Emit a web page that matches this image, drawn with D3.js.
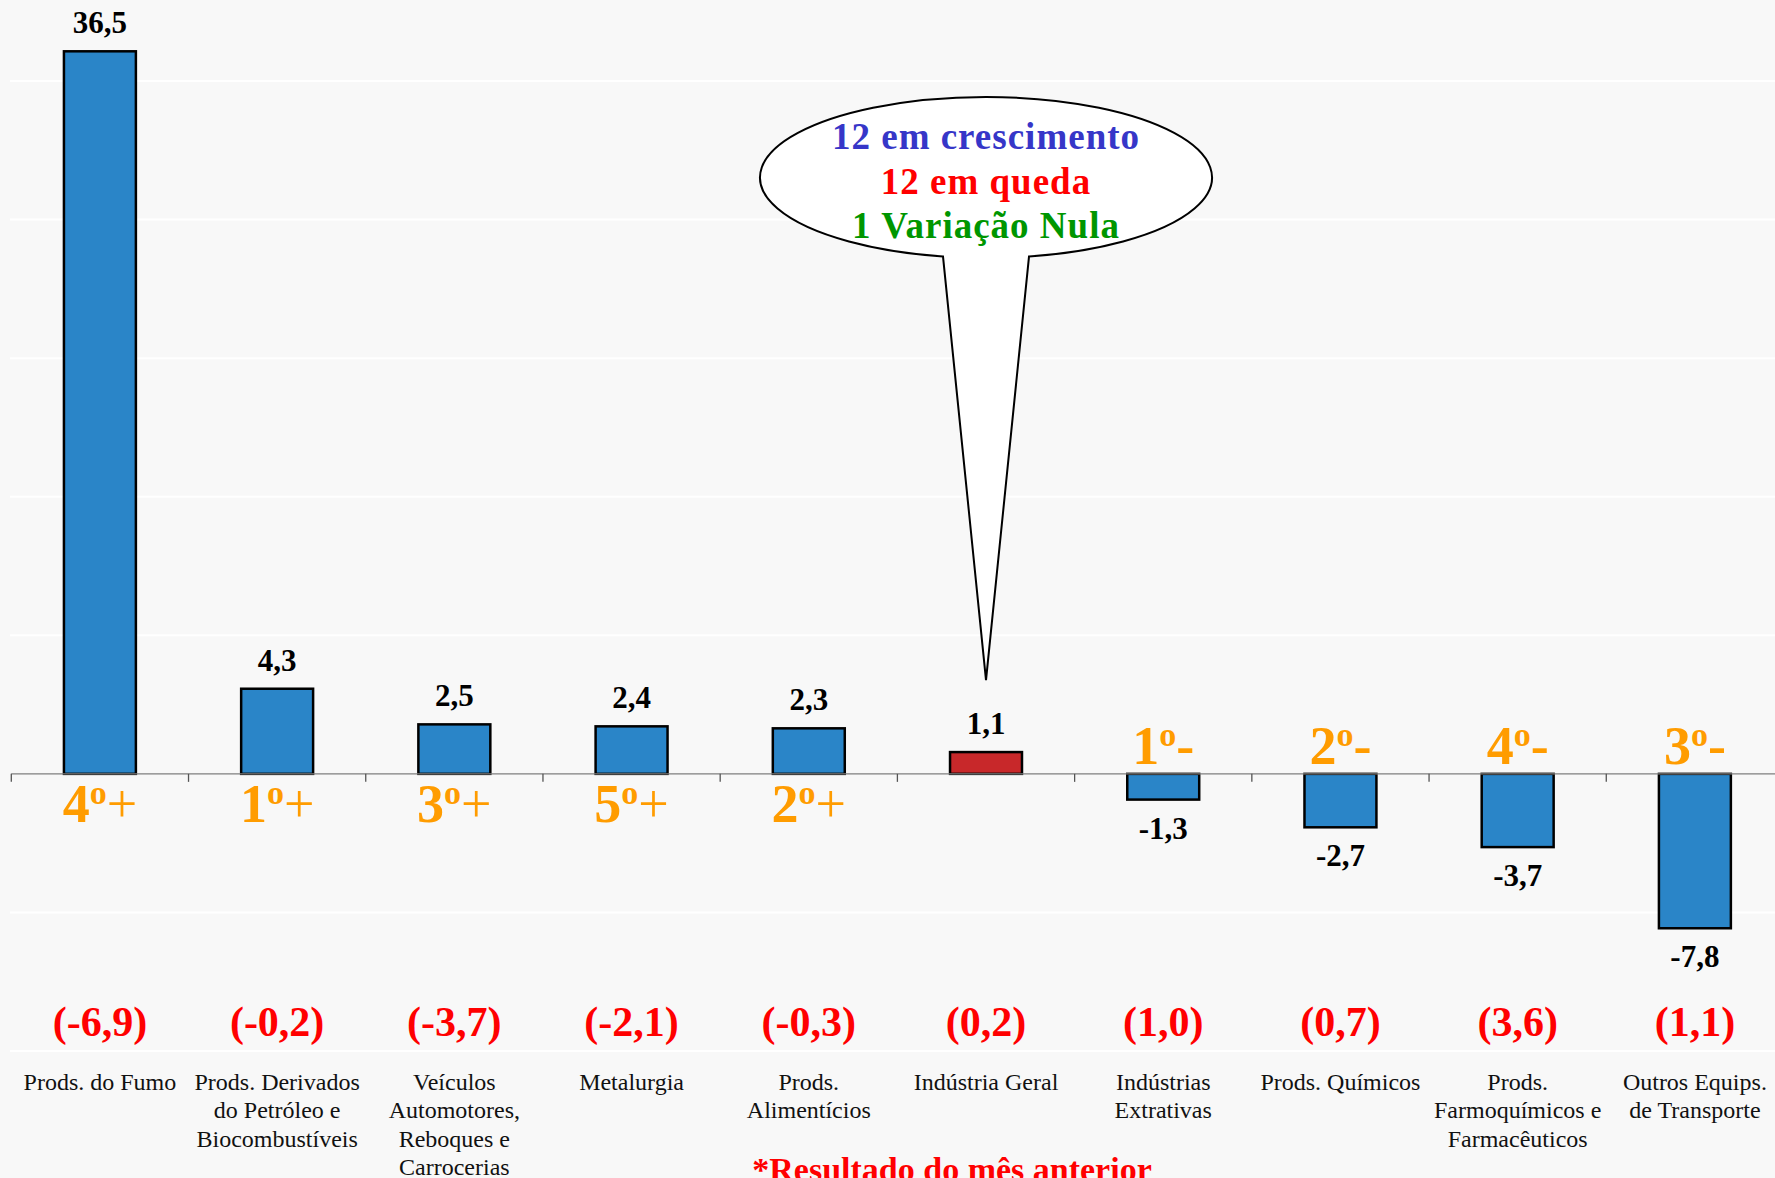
<!DOCTYPE html>
<html>
<head>
<meta charset="utf-8">
<script src="https://cdn.jsdelivr.net/npm/d3@7"></script>
<style>
  html, body { margin: 0; padding: 0; background: #f8f8f8; overflow: hidden; }
  svg { display: block; font-family: "Liberation Serif", "DejaVu Serif", serif; }
</style>
</head>
<body>
<svg id="chart" width="1775" height="1178"></svg>
<script>
// ---- data ----
const categories = [
  "Prods. do Fumo",
  "Prods. Derivados\ndo Petróleo e\nBiocombustíveis",
  "Veículos\nAutomotores,\nReboques e\nCarrocerias",
  "Metalurgia",
  "Prods.\nAlimentícios",
  "Indústria Geral",
  "Indústrias\nExtrativas",
  "Prods. Químicos",
  "Prods.\nFarmoquímicos e\nFarmacêuticos",
  "Outros Equips.\nde Transporte"
];
const values = [36.5, 4.3, 2.5, 2.4, 2.3, 1.1, -1.3, -2.7, -3.7, -7.8];
const previousValues = [-6.9, -0.2, -3.7, -2.1, -0.3, 0.2, 1.0, 0.7, 3.6, 1.1];
const rankNumbers = [4, 1, 3, 5, 2, null, 1, 2, 4, 3];
const rankSigns = ["+", "+", "+", "+", "+", "", "-", "-", "-", "-"];
const highlightCategory = "Indústria Geral";
const gridValues = [-14, -7, 7, 14, 21, 28, 35];
const calloutLines = ["12 em crescimento", "12 em queda", "1 Variação Nula"];
const calloutColors = ["#3636c8", "#ff0000", "#009600"];
const footnote = "*Resultado do mês anterior";

// ---- layout ----
const W = 1775, H = 1178;
const svg = d3.select("#chart");
const locale = d3.formatLocale({decimal: ",", thousands: ".", grouping: [3], currency: ["", ""], minus: "-"});
const fmt = locale.format(".1f");

const y = d3.scaleLinear().domain([-14, 35]).range([1051, 81]);
const x = d3.scaleBand().domain(categories).range([11.3, 1783.5])
  .paddingInner(0.594).paddingOuter(0.297);
const step = x.step();
const x0 = 11.3;
const cx = c => x(c) + x.bandwidth() / 2;

svg.append("rect").attr("width", W).attr("height", H).attr("fill", "#f8f8f8");

// gridlines
svg.append("g").selectAll("line").data(gridValues).join("line")
  .attr("x1", 10).attr("x2", W)
  .attr("y1", d => y(d)).attr("y2", d => y(d))
  .attr("stroke", "#ffffff").attr("stroke-width", 2);

// bars
svg.append("g").selectAll("rect").data(categories).join("rect")
  .attr("x", c => x(c))
  .attr("width", x.bandwidth())
  .attr("y", (c, i) => Math.min(y(values[i]), y(0)))
  .attr("height", (c, i) => Math.abs(y(values[i]) - y(0)))
  .attr("fill", c => c === highlightCategory ? "#c8282a" : "#2a85c8")
  .attr("stroke", "#000").attr("stroke-width", 2.5);

// axis line and ticks
svg.append("line").attr("x1", x0).attr("x2", W)
  .attr("y1", y(0)).attr("y2", y(0))
  .attr("stroke", "#7f7f7f").attr("stroke-width", 1.3);
svg.append("g").selectAll("line").data(d3.range(categories.length + 1)).join("line")
  .attr("x1", i => x0 + i * step).attr("x2", i => x0 + i * step)
  .attr("y1", y(0)).attr("y2", y(0) + 8)
  .attr("stroke", "#555").attr("stroke-width", 1.3);

// value labels
svg.append("g").selectAll("text").data(categories).join("text")
  .attr("x", c => cx(c))
  .attr("y", (c, i) => values[i] >= 0 ? y(values[i]) - 18 : y(values[i]) + 39)
  .attr("text-anchor", "middle")
  .attr("font-weight", "bold").attr("font-size", 31).attr("fill", "#000")
  .text((c, i) => fmt(values[i]));

// rank labels
const rk = svg.append("g").selectAll("text").data(categories).join("text")
  .attr("x", c => cx(c))
  .attr("y", (c, i) => values[i] >= 0 ? y(0) + 48 : y(0) - 10)
  .attr("text-anchor", "middle")
  .attr("font-size", 54).attr("font-weight", "bold").attr("fill", "#ff9c00");
rk.each(function(c, i) {
  if (rankNumbers[i] == null) return;
  const t = d3.select(this);
  t.append("tspan").text(rankNumbers[i]);
  t.append("tspan").attr("font-size", 34).attr("dy", -18).text("o");
  t.append("tspan").attr("dy", 18)
    .attr("font-weight", rankSigns[i] === "+" ? "normal" : "bold")
    .text(rankSigns[i]);
});

// previous month values
svg.append("g").selectAll("text").data(categories).join("text")
  .attr("x", c => cx(c))
  .attr("y", 1036)
  .attr("text-anchor", "middle")
  .attr("font-size", 42).attr("font-weight", "bold").attr("fill", "#ff0000")
  .text((c, i) => "(" + fmt(previousValues[i]) + ")");

// category labels
svg.append("g").selectAll("text").data(categories).join("text")
  .attr("x", c => cx(c))
  .attr("y", 1090)
  .attr("text-anchor", "middle")
  .attr("font-size", 24).attr("fill", "#111")
  .each(function(c) {
    const t = d3.select(this);
    c.split("\n").forEach((line, k) => {
      t.append("tspan").attr("x", cx(c)).attr("dy", k === 0 ? 0 : 28.3).text(line);
    });
  });

// callout
const tipX = cx(highlightCategory);
const tipY = y(values[categories.indexOf(highlightCategory)]) - 72;
const ecx = tipX, ecy = 177.5, erx = 226, ery = 80.5, half = 43;
const yb = ecy + ery * Math.sqrt(1 - (half / erx) ** 2);
svg.append("path")
  .attr("d", `M${ecx + half},${yb} A${erx},${ery} 0 1 0 ${ecx - half},${yb} L${tipX},${tipY} Z`)
  .attr("fill", "#ffffff").attr("stroke", "#000").attr("stroke-width", 2);
svg.append("g").selectAll("text").data(calloutLines).join("text")
  .attr("x", ecx)
  .attr("y", (d, i) => 149 + i * 44.5)
  .attr("text-anchor", "middle")
  .attr("font-size", 37).attr("font-weight", "bold")
  .attr("letter-spacing", 1)
  .attr("fill", (d, i) => calloutColors[i])
  .text(d => d);

// footnote (cut at bottom edge, as in the reference)
svg.append("text")
  .attr("x", 952).attr("y", 1181)
  .attr("text-anchor", "middle")
  .attr("font-size", 34).attr("font-weight", "bold").attr("fill", "#ff0000")
  .text(footnote);
</script>
</body>
</html>
